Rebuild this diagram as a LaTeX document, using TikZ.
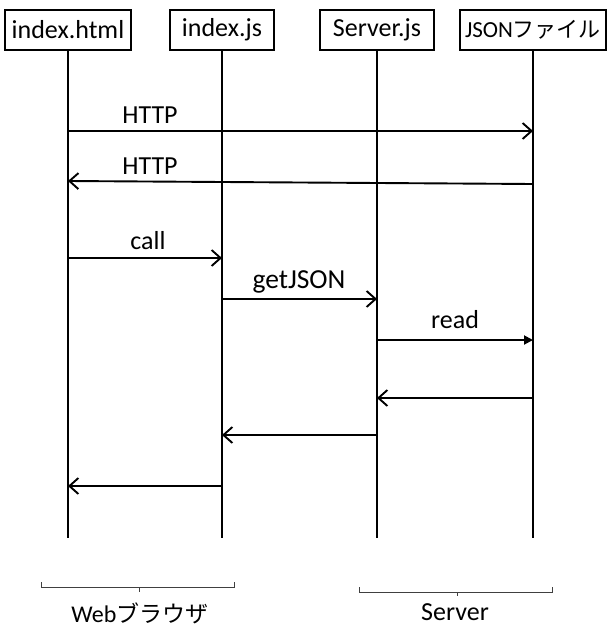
\documentclass[tikz,border=0pt]{standalone}
\usepackage{fontspec}
\setmainfont{Carlito}
\newfontfamily\jp{Noto Sans CJK JP}
\usetikzlibrary{arrows.meta}
\begin{document}
\begin{tikzpicture}[x=1pt,y=-1pt,
  obj/.style={draw,line width=1.8pt,minimum height=40pt,inner sep=0pt,font=\fontsize{26}{28}\selectfont,anchor=north},
  life/.style={line width=2.4pt},
  msg/.style={line width=1.9pt,-{Straight Barb[length=9pt,width=16pt,line width=1.9pt]}},
  msgf/.style={line width=1.9pt,-{Triangle[length=9pt,width=9pt]}},
  lbl/.style={font=\fontsize{26}{28}\selectfont},
  brk/.style={line width=0.9pt,draw=black!75},
  grp/.style={font=\fontsize{26}{28}\selectfont,inner sep=0pt}]
\useasboundingbox (0,0) rectangle (608,629);
\node[obj,minimum width=126pt] (A) at (68,9) {index.html};
\node[obj,minimum width=104pt] (B) at (222,9) {index.js};
\node[obj,minimum width=114pt] (C) at (377,9) {Server.js};
\node[obj,minimum width=146pt,font=\fontsize{23}{26}\selectfont] (D) at (533,9) {JSON{\jp\fontsize{22}{24}\selectfont ファイル}};
\coordinate (Ae) at (68,538);
\coordinate (Be) at (222,538);
\coordinate (Ce) at (377,538);
\coordinate (De) at (533,538);
\draw[life] (A.south) -- (Ae);
\draw[life] (B.south) -- (Be);
\draw[life] (C.south) -- (Ce);
\draw[life] (D.south) -- (De);
% messages
\draw[msg] (A |- 0,131) -- (D |- 0,131);
\node[lbl] (l1) at (150,115) {HTTP};
\draw[msg] (D |- 0,184) -- (A |- 0,181);
\node[lbl] (l2) at (150,166) {HTTP};
\draw[msg] (A |- 0,258) -- (B |- 0,258);
\node[lbl] (l3) at (148,241) {call};
\draw[msg] (B |- 0,299) -- (C |- 0,299);
\node[lbl,font=\fontsize{27.5}{29}\selectfont] (l4) at (299,282) {getJSON};
\draw[msgf] (C |- 0,340) -- (D |- 0,340);
\node[lbl] (l5) at (455,320) {read};
\draw[msg] (D |- 0,398) -- (C |- 0,398);
\draw[msg] (C |- 0,435) -- (B |- 0,435);
\draw[msg] (B |- 0,486) -- (A |- 0,486);
% brackets
\draw[brk] (41,582) -- (41,587) -- (234,587) -- (234,582);
\draw[brk] (139,587) -- (139,592);
\draw[brk] (359,587) -- (359,592) -- (552,592) -- (552,587);
\draw[brk] (457,592) -- (457,596);
\node[grp] (g1) at (140,613) {{\fontsize{24}{26}\selectfont Web}{\jp\fontsize{23}{24}\selectfont ブラウザ}};
\node[grp] (g2) at (455,612) {Server};
\end{tikzpicture}
\end{document}
